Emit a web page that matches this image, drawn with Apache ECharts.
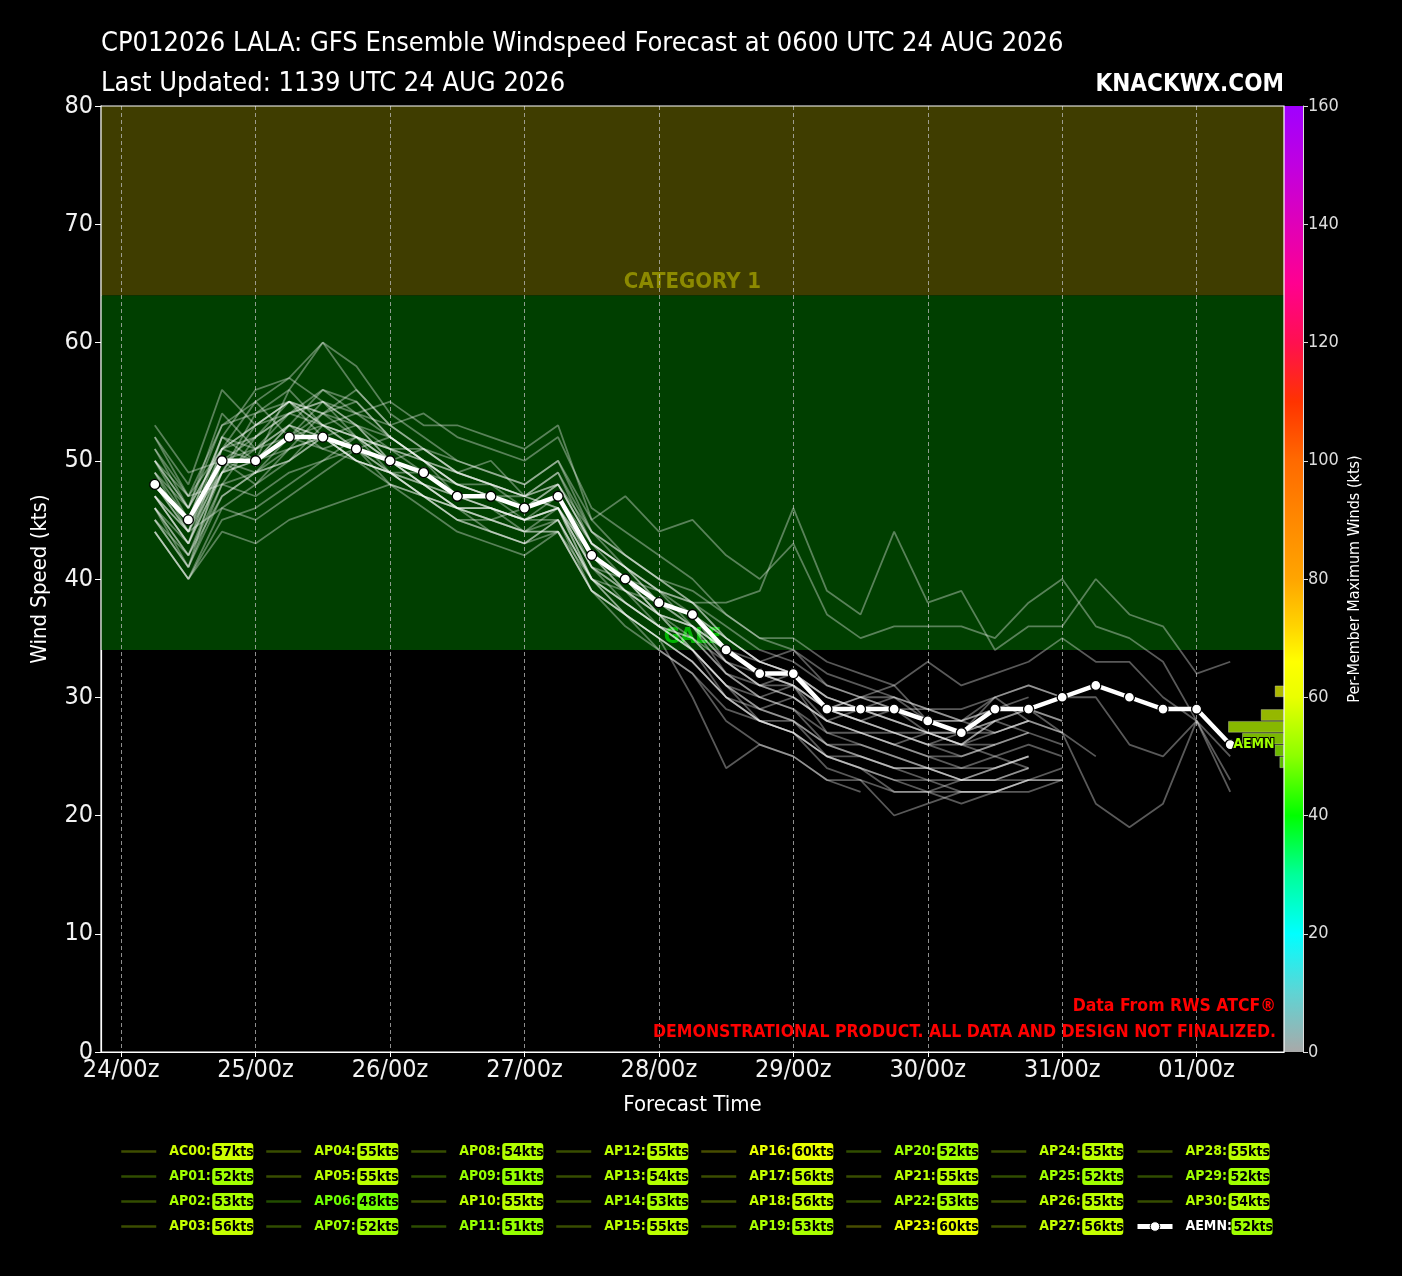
<!DOCTYPE html>
<html><head><meta charset="utf-8">
<script src="https://cdn.jsdelivr.net/npm/echarts@6/dist/echarts.min.js"></script>
<style>html,body{margin:0;padding:0;background:#000;}#c{width:1402px;height:1276px;}</style>
</head><body><div id="c"></div>
<script>
const FONT = "'DejaVu Sans Condensed','Liberation Sans Narrow','Roboto Condensed',sans-serif";

// forecast hours after 24/00z
const hours = [6,12,18,24,30,36,42,48,54,60,66,72,78,84,90,96,102,108,114,120,126,132,138,144,150,156,162,168,174,180,186,192,198];
const dayTicks = [0,24,48,72,96,120,144,168,192];
const dayLabels = ['24/00z','25/00z','26/00z','27/00z','28/00z','29/00z','30/00z','31/00z','01/00z'];

const memberNames = ['AC00','AP01','AP02','AP03','AP04','AP05','AP06','AP07','AP08','AP09','AP10','AP11','AP12','AP13','AP14','AP15','AP16','AP17','AP18','AP19','AP20','AP21','AP22','AP23','AP24','AP25','AP26','AP27','AP28','AP29','AP30'];
const memberMax = [57,52,53,56,55,55,48,52,54,51,55,51,55,54,53,55,60,56,56,53,52,55,53,60,55,52,55,56,55,52,54];

const aemn = [48,45,50,50,52,52,51,50,49,47,47,46,47,42,40,38,37,34,32,32,29,29,29,28,27,29,29,30,31,30,29,29,26];
const aemnMax = 52;

const AC00 = [49,44,52,56,57,55,53,51,50,48,47,46,48,43,41,38,36,33,31,30,28,27,27,26,25,26,27];
const AP01 = [47,43,49,50,51,52,50,49,48,46,45,44,46,41,38,36,35,32,30,29,27,26,25,24,23,24,25];
const AP02 = [50,46,51,50,53,52,50,49,47,46,46,45,46,40,39,37,34,31,29,28,26,25,24,24,23,23,23,24];
const AP03 = [46,42,48,52,54,56,55,52,50,49,48,47,49,44,42,40,38,36,34,33,31,30,29,28,28,27,28,27];
const AP04 = [51,47,53,55,52,51,52,50,51,49,48,47,46,42,40,37,35,32,31,32,29,28,27,26,26,25,26,25];
const AP05 = [45,41,47,49,52,55,54,53,51,50,49,48,50,45,42,40,39,37,35,35,33,32,31,33,31,32,33,35,33,33,30,28];
const AP06 = [44,40,44,43,45,46,47,48,46,44,43,42,44,39,37,35,33,30,28,27,25,24,23,22,22,22,23];
const AP07 = [48,45,50,49,50,52,51,50,48,47,46,45,45,40,38,36,34,31,29,30,28,27,26,27,26,28,27];
const AP08 = [49,46,51,53,54,53,52,51,50,48,47,46,47,42,39,38,36,34,33,34,31,30,29,29,28,29,30];
const AP09 = [44,40,45,46,48,50,51,49,47,45,44,43,45,40,37,35,30,24,26,25,23,23,22,22,21,22,22,23];
const AP10 = [49,45,52,51,54,55,53,52,50,47,47,45,46,40,38,36,35,33,31,30,28,29,28,27,26,28,29,27,21,19,21,28,22];
const AP11 = [47,44,46,45,47,49,51,48,47,46,45,44,44,40,38,36,34,31,28,27,25,24,22,22,23,23,24];
const AP12 = [50,47,51,52,55,53,52,51,49,48,47,47,46,41,40,37,36,33,31,31,29,30,30,29,28,30,31,30,30,26,25,28,23];
const AP13 = [51,46,54,51,53,52,53,50,48,46,46,45,46,41,39,36,34,30,29,28,26,25,24,24,23,23,24];
const AP14 = [44,40,46,48,50,53,51,50,49,47,47,46,47,43,41,38,37,34,32,32,29,28,27,26,27,27,28];
const AP15 = [46,43,49,53,55,54,53,50,48,46,45,46,47,41,39,37,34,31,30,29,26,26,25,24,24,24,25];
const AP16 = [50,46,53,54,56,60,58,54,52,50,49,48,50,44,42,40,38,35,33,32,30,29,28,27,26,27,28];
const AP17 = [52,48,56,53,55,54,56,53,54,52,51,50,52,46,44,42,40,37,35,34,32,31,30,29,29,30,31,30];
const AP18 = [45,41,50,51,53,56,54,55,53,53,52,51,53,45,47,44,45,42,40,43,37,35,36,36,36,35,38,40,36,35,33,28,25];
const AP19 = [48,45,52,50,53,51,50,49,47,45,44,43,45,40,37,35,33,30,28,28,25,25,24,23,23,24,25];
const AP20 = [45,42,47,49,51,52,50,48,47,45,45,44,44,39,36,34,32,28,26,25,23,22];
const AP21 = [47,43,50,50,52,54,55,52,50,48,48,46,47,42,39,37,36,34,32,31,29,30,31,28,27,30,28,27,25];
const AP22 = [46,42,49,51,52,53,51,52,50,48,47,46,47,42,40,38,37,35,33,32,29,28,27,27,27,28,29,28];
const AP23 = [47,43,51,55,57,60,56,53,51,49,50,47,49,43,41,39,36,34,32,31,29,28,29,27,27,28];
const AP24 = [53,49,50,52,54,55,52,50,48,47,46,44,45,39,37,34,32,29,28,27,25,24,23,23,22,22,23,23];
const AP25 = [52,47,48,47,49,50,52,49,47,46,44,43,44,39,37,35,33,30,28,27,24,23,20,21,22,22,23,23];
const AP26 = [48,44,51,53,55,52,51,49,49,47,47,46,48,43,40,38,37,33,32,31,27,27,26,25,24,25,24];
const AP27 = [48,44,49,50,56,53,52,50,49,47,46,45,47,42,40,39,38,38,39,46,39,37,44,38,39,34,36,36,40,37,36,32,33];
const AP28 = [50,45,49,54,55,53,54,52,50,49,48,47,48,43,41,39,37,35,33,32,30,29,28,27,26,26,27,26];
const AP29 = [46,41,48,49,50,52,50,49,48,46,46,45,46,42,40,37,36,32,30,31,28,27,26,25,25,26];
const AP30 = [47,44,50,48,51,54,52,51,51,49,48,47,48,44,41,39,38,35,33,32,30,29,30,28,28,29,29,28];
const memberValues = [AC00,AP01,AP02,AP03,AP04,AP05,AP06,AP07,AP08,AP09,AP10,AP11,AP12,AP13,AP14,AP15,AP16,AP17,AP18,AP19,AP20,AP21,AP22,AP23,AP24,AP25,AP26,AP27,AP28,AP29,AP30];

const bandNames = ['GALE','CATEGORY 1'];
const bandFrom = [34,64];
const bandTo = [64,80];

const cmapStops = [[0,'#a9a9a9'],[10,'#5fd4d4'],[20,'#00ffff'],[30,'#00ff99'],[40,'#00ff00'],[50,'#8cff00'],[60,'#eaff00'],[66,'#ffff00'],[72,'#ffd400'],[80,'#ffa500'],[90,'#ff8800'],[100,'#ff6a00'],[110,'#ff3300'],[120,'#ff1050'],[130,'#ff0090'],[140,'#e000b8'],[150,'#c000e0'],[160,'#a000ff']];

function h2r(h){return [parseInt(h.slice(1,3),16),parseInt(h.slice(3,5),16),parseInt(h.slice(5,7),16)];}
function cmapRGB(v){
  const s = cmapStops;
  if (v <= s[0][0]) return h2r(s[0][1]);
  for (let i=0;i<s.length-1;i++){
    if (v <= s[i+1][0]) {
      const t = (v - s[i][0])/(s[i+1][0]-s[i][0]);
      const a = h2r(s[i][1]), b = h2r(s[i+1][1]);
      return a.map((x,k)=>Math.round(x + (b[k]-x)*t));
    }
  }
  return h2r(s[s.length-1][1]);
}
function cmap(v, alpha){
  const c = cmapRGB(v);
  return alpha == null ? `rgb(${c[0]},${c[1]},${c[2]})` : `rgba(${c[0]},${c[1]},${c[2]},${alpha})`;
}

const chart = echarts.init(document.getElementById('c'));

// rich styles for legend
const LFS = 14;
const rich = { sp: { width: 8, fontSize: LFS } };
const uniq = Array.from(new Set(memberMax.concat([aemnMax])));
uniq.forEach(v => {
  rich['n'+v] = { color: cmap(v), fontFamily: FONT, fontWeight: 'bold', fontSize: LFS, width: 43 };
  rich['b'+v] = { backgroundColor: cmap(v), color: '#000', fontFamily: FONT, fontWeight: 'bold', fontSize: LFS,
                  padding: [2,1,1,2], borderRadius: 3, width: 38, lineHeight: 17, borderColor: 'rgba(0,0,0,0.3)', borderWidth: 1 };
});
rich['nW'] = { color: '#fff', fontFamily: FONT, fontWeight: 'bold', fontSize: LFS, width: 46 };
const maxByName = {};
memberNames.forEach((n,i)=>{ maxByName[n] = memberMax[i]; });
maxByName['AEMN'] = aemnMax;

const allNames = memberNames.concat(['AEMN']);
const legends = [];
for (let c = 0; c < 8; c++) {
  const names = allNames.slice(c*4, c*4+4);
  legends.push({
    orient: 'vertical', left: 120 + 145*c, top: 1142, itemWidth: 35, itemHeight: 12, itemGap: 6,
    padding: 0, selectedMode: false,
    data: names.map(n => n === 'AEMN'
      ? { name: n, lineStyle: { color: '#fff', width: 5 }, itemStyle: { color: '#fff', borderColor: '#000', borderWidth: 1 } }
      : { name: n, lineStyle: { color: cmap(maxByName[n], 0.3), width: 2.5 }, itemStyle: { opacity: 0 } }),
    formatter: n => {
      const v = maxByName[n];
      const nm = n === 'AEMN' ? 'nW' : 'n'+v;
      return `{sp| }{${nm}|${n}:}{b${v}|${v}kts}`;
    },
    textStyle: { rich: rich, fontFamily: FONT }
  });
}

// histogram of per-member maximum winds in 2-kt bins
const binStarts = [];
for (let b = 0; b < 160; b += 2) binStarts.push(b);
const binData = binStarts.map(b => {
  const n = memberMax.filter(v => v >= b && v < b + 2).length;
  return n ? { value: n, itemStyle: { color: cmap(b + 1, 0.72) } } : '-';
});

const series = [];
series.push({
  type: 'line', data: [], xAxisIndex: 0, yAxisIndex: 0, silent: true,
  markArea: {
    silent: true, z: 1,
    data: bandNames.map((nm, i) => [
      { yAxis: bandFrom[i], name: nm,
        itemStyle: { color: i === 0 ? '#003f00' : '#3f3d00' },
        label: { show: true, position: 'insideBottom', distance: 2, color: i === 0 ? '#00b400' : '#8c8a00',
                 fontFamily: FONT, fontWeight: 'bold', fontSize: 22 } },
      { yAxis: bandTo[i] }
    ])
  }
});
memberValues.forEach((vals, i) => {
  series.push({
    type: 'line', name: memberNames[i], xAxisIndex: 0, yAxisIndex: 0,
    data: vals.map((v, k) => [hours[k], v]),
    symbol: 'none', silent: true, z: 3,
    lineStyle: { color: 'rgba(255,255,255,0.35)', width: 1.8 },
    emphasis: { disabled: true }
  });
});
series.push({
  type: 'line', name: 'AEMN', xAxisIndex: 0, yAxisIndex: 0, z: 10, silent: true,
  data: aemn.map((v, k) => [hours[k], v]),
  symbol: 'circle', symbolSize: 10,
  itemStyle: { color: '#fff', borderColor: '#000', borderWidth: 1.3 },
  lineStyle: { color: '#fff', width: 4.5 },
  endLabel: { show: true, formatter: 'AEMN', color: cmap(aemnMax), fontFamily: FONT, fontWeight: 'bold', fontSize: 14,
              distance: 3, textBorderColor: '#000', textBorderWidth: 2 },
  emphasis: { disabled: true }
});
series.push({
  type: 'bar', xAxisIndex: 1, yAxisIndex: 1, data: binData, barWidth: '100%', silent: true, z: 4,
  itemStyle: { borderColor: 'rgba(255,255,255,0.28)', borderWidth: 1 }
});
series.push({
  type: 'bar', xAxisIndex: 2, yAxisIndex: 2, data: [160], barWidth: '100%', silent: true,
  itemStyle: { color: new echarts.graphic.LinearGradient(0, 1, 0, 0, cmapStops.map(s => ({ offset: s[0]/160, color: s[1] }))) }
});

const lblStyle = { color: '#f2f2f2', fontFamily: FONT, fontSize: 25 };

const option = {
  backgroundColor: '#000',
  animation: false,
  title: [
    { text: 'CP012026 LALA: GFS Ensemble Windspeed Forecast at 0600 UTC 24 AUG 2026', left: 101, top: 30, padding: 0,
      textStyle: { color: '#fff', fontFamily: FONT, fontSize: 27, fontWeight: 'normal' } },
    { text: 'Last Updated: 1139 UTC 24 AUG 2026', left: 101, top: 70, padding: 0,
      textStyle: { color: '#fff', fontFamily: FONT, fontSize: 27, fontWeight: 'normal' } },
    { text: 'KNACKWX.COM', right: 118, top: 73, padding: 0,
      textStyle: { color: '#fff', fontFamily: FONT, fontSize: 24, fontWeight: 'bold' } },
    { text: 'Data From RWS ATCF®', right: 126, top: 997, padding: 0,
      textStyle: { color: '#ff0000', fontFamily: FONT, fontSize: 17.5, fontWeight: 'bold' } },
    { text: 'DEMONSTRATIONAL PRODUCT. ALL DATA AND DESIGN NOT FINALIZED.', right: 126, top: 1023, padding: 0,
      textStyle: { color: '#ff0000', fontFamily: FONT, fontSize: 17.5, fontWeight: 'bold' } }
  ],
  legend: legends,
  grid: [
    { left: 101, right: 118, top: 106, bottom: 224, show: true, borderColor: '#fff', borderWidth: 1.2, backgroundColor: 'transparent', z: 6 },
    { left: 1144, right: 118, top: 106, bottom: 224 },
    { left: 1284, right: 99, top: 106, bottom: 224 }
  ],
  xAxis: [
    { type: 'value', gridIndex: 0, min: -3.6, max: 207.6, z: 1.5,
      name: 'Forecast Time', nameLocation: 'middle', nameGap: 42,
      nameTextStyle: { color: '#fff', fontFamily: FONT, fontSize: 22 },
      axisLine: { show: true, onZero: false, lineStyle: { color: '#fff', width: 1.2 } },
      axisTick: { show: true, customValues: dayTicks, length: 5, lineStyle: { color: '#fff' } },
      axisLabel: { customValues: dayTicks, formatter: v => dayLabels[dayTicks.indexOf(v)] || '', margin: 6, ...lblStyle },
      splitLine: { show: true, customValues: dayTicks, lineStyle: { color: 'rgba(190,190,190,0.75)', width: 1, type: [4,3] } } },
    { type: 'value', gridIndex: 1, inverse: true, min: 0, max: 30, show: false },
    { type: 'category', gridIndex: 2, data: ['cb'], show: false }
  ],
  yAxis: [
    { type: 'value', gridIndex: 0, min: 0, max: 80, interval: 10,
      name: 'Wind Speed (kts)', nameLocation: 'middle', nameGap: 50, nameRotate: 90,
      nameTextStyle: { color: '#fff', fontFamily: FONT, fontSize: 22 },
      axisLine: { show: true, onZero: false, lineStyle: { color: '#fff', width: 1.2 } },
      axisTick: { show: true, length: 6, lineStyle: { color: '#fff' } },
      axisLabel: { margin: 8, ...lblStyle },
      splitLine: { show: false } },
    { type: 'category', gridIndex: 1, data: binStarts, show: false },
    { type: 'value', gridIndex: 2, min: 0, max: 160, interval: 20, position: 'right',
      name: 'Per-Member Maximum Winds (kts)', nameLocation: 'middle', nameGap: 44, nameRotate: 90,
      nameTextStyle: { color: '#fff', fontFamily: FONT, fontSize: 16 },
      axisLine: { show: true, onZero: false, lineStyle: { color: '#ddd', width: 1 } },
      axisTick: { show: true, length: 5, lineStyle: { color: '#ddd' } },
      axisLabel: { margin: 5, color: '#ddd', fontFamily: FONT, fontSize: 18 },
      splitLine: { show: false } }
  ],
  series: series
};
chart.setOption(option);
</script>
</body></html>
